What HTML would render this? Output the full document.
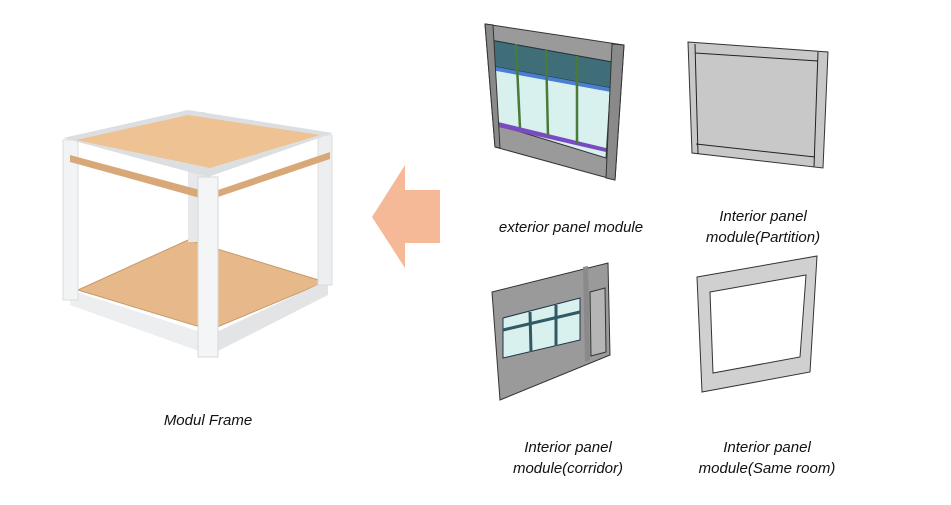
<!DOCTYPE html>
<html><head><meta charset="utf-8"><style>
body{margin:0;background:#fff;width:951px;height:505px;overflow:hidden}
svg{display:block}
text{font-family:"Liberation Sans",sans-serif;font-style:italic;font-size:15px;fill:#111;text-anchor:middle}
</style></head><body>
<svg width="951" height="505" viewBox="0 0 951 505">
<!-- frame -->
<polygon points="78,290 188,240 325,282 210,330" fill="#e7b98a" stroke="#c89868"/>
<polygon points="70,290 210,335 210,355 70,305" fill="#eceef0"/>
<polygon points="210,335 328,280 328,295 210,355" fill="#e2e4e6"/>
<rect x="188" y="112" width="17" height="130" fill="#e6e8ea"/>
<rect x="63" y="140" width="15" height="160" fill="#f2f3f4" stroke="#ddd"/>
<rect x="318" y="135" width="14" height="150" fill="#eceef0" stroke="#ddd"/>
<polygon points="63,138 188,110 333,133 208,177" fill="#dcdfe2"/>
<polygon points="76,140 188,115 320,135 210,168" fill="#eec292"/>
<polygon points="70,155 200,190 200,198 70,162" fill="#d8a878"/>
<polygon points="218,190 330,152 330,159 218,197" fill="#d8a878"/>
<rect x="198" y="177" width="20" height="180" fill="#f4f5f6" stroke="#d8d8d8"/>
<!-- arrow -->
<polygon points="372,217 405,165 405,190 440,190 440,243 405,243 405,268" fill="#f5b998"/>
<!-- exterior panel -->
<polygon points="485,24 624,45 615,180 495,147" fill="#9a9a9a" stroke="#333"/>
<polygon points="490,40 612,62 606,158 498,125" fill="#d8f0ee" stroke="#333"/>
<polygon points="490,40 612,62 611,88 491,66" fill="#3f6e78" stroke="#234"/>
<polygon points="491,66 611,88 611,92 491,70" fill="#4a7ed0"/>
<polygon points="498,122 606,148 606,152 498,127" fill="#7a4ac0"/>
<g stroke="#4a7a3a" stroke-width="2.5"><line x1="516" y1="44" x2="520" y2="128"/><line x1="546" y1="50" x2="548" y2="136"/><line x1="577" y1="56" x2="577" y2="143"/></g>
<polygon points="485,24 493,25 500,148 495,147" fill="#8a8a8a" stroke="#333"/>
<polygon points="612,44 624,45 615,180 606,178" fill="#8a8a8a" stroke="#333"/>
<!-- partition -->
<polygon points="688,42 828,52 823,168 692,153" fill="#c8c8c8" stroke="#333"/>
<line x1="695" y1="53" x2="818" y2="61" stroke="#222"/>
<line x1="696" y1="144" x2="815" y2="157" stroke="#222"/>
<line x1="695" y1="44" x2="698" y2="154" stroke="#222"/>
<line x1="818" y1="52" x2="814" y2="167" stroke="#222"/>
<!-- corridor -->
<polygon points="492,292 608,263 610,355 500,400" fill="#9a9a9a" stroke="#333"/>
<polygon points="503,318 580,298 580,340 503,358" fill="#d8f0ee" stroke="#234"/>
<g stroke="#2f5a66" stroke-width="3"><line x1="503" y1="330" x2="580" y2="312"/><line x1="530" y1="312" x2="531" y2="352"/><line x1="556" y1="305" x2="556" y2="346"/></g>
<polygon points="590,292 605,288 606,352 591,356" fill="#b5b5b5" stroke="#333"/>
<polygon points="583,267 588,266 590,360 585,362" fill="#8a8a8a"/>
<!-- same room -->
<polygon points="697,277 817,256 810,372 702,392" fill="#d0d0d0" stroke="#333"/>
<polygon points="710,292 806,275 800,357 713,373" fill="#fff" stroke="#333"/>
<text x="571" y="232">exterior panel module</text>
<text x="763" y="221">Interior panel</text><text x="763" y="242">module(Partition)</text>
<text x="568" y="452">Interior panel</text><text x="568" y="473">module(corridor)</text>
<text x="767" y="452">Interior panel</text><text x="767" y="473">module(Same room)</text>
<text x="208" y="425">Modul Frame</text>
</svg>
</body></html>
